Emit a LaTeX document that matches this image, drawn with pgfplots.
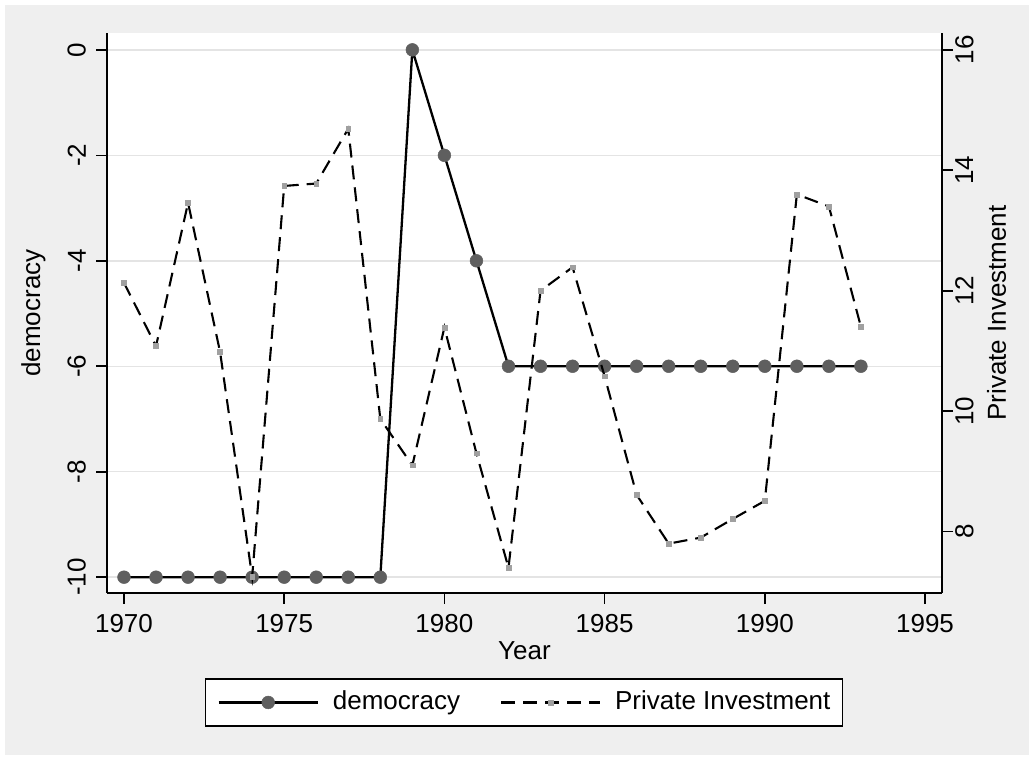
\documentclass[border=0pt]{standalone}
\usepackage{fontspec}
\setmainfont{Liberation Sans}
\usepackage{pgfplots}
\pgfplotsset{compat=1.18}
\definecolor{bggray}{RGB}{239,239,239}
\definecolor{gridgray}{RGB}{228,228,228}
\definecolor{dotgray}{RGB}{95,95,95}
\definecolor{sqgray}{RGB}{160,160,160}
\newcommand{\fs}{\fontsize{26}{31}\selectfont}
\begin{document}
\fs
\begin{tikzpicture}
\useasboundingbox (0pt,0pt) rectangle (1034pt,760pt);
\fill[white] (0pt,0pt) rectangle (1034pt,760pt);
\fill[bggray] (5pt,5pt) rectangle (1029pt,755pt);
\pgfplotsset{
  common/.style={
    at={(107pt,167pt)}, anchor=south west,
    scale only axis, width=835pt, height=560pt,
    xmin=1969.47, xmax=1995.53,
    tick align=outside, major tick length=11pt,
    every tick/.style={black, line width=1.6pt},
    axis line style={black, line width=1.6pt},
    /pgf/number format/assume math mode=true,
    /pgf/number format/1000 sep={},
    ticklabel style={font=\fs, inner sep=0pt},
    label style={font=\fs},
    clip=false,
  }
}
\begin{axis}[common,
  axis x line*=bottom, axis y line*=left,
  axis background/.style={fill=white},
  ymin=-10.30, ymax=0.32,
  xtick={1970,1975,...,1995}, ytick={-10,-8,...,0},
  ymajorgrids, major grid style={gridgray, line width=1.5pt},
  xticklabel style={anchor=north, yshift=-10pt},
  yticklabel style={xshift=-10pt, rotate=90, anchor=south},
  xlabel={Year}, ylabel={democracy},
  every axis x label/.style={at={(axis description cs:0.5,-0.1179)}, anchor=base},
  every axis y label/.style={at={(axis description cs:-0.0802,0.5)}, rotate=90, anchor=base},
  legend columns=2,
  legend style={at={(axis description cs:0.4994,-0.1955)}, anchor=center,
    draw=black, line width=1.5pt, fill=white, inner xsep=12pt, inner ysep=12pt,
    font=\fs, nodes={inner sep=0pt},
    /tikz/every odd column/.style={column sep=14pt},
    /tikz/every even column/.style={column sep=40pt}},
  legend image code/.code={\draw[mark repeat=2, mark phase=2, #1] plot coordinates {(0pt,0pt) (49.5pt,0pt) (99pt,0pt)};},
]
\addplot[black, line width=2.3pt, mark=*, mark size=6.4pt,
  mark options={solid, fill=dotgray, draw=dotgray, line width=0.5pt}]
  coordinates {
  (1970,-10) (1971,-10) (1972,-10) (1973,-10) (1974,-10) (1975,-10)
  (1976,-10) (1977,-10) (1978,-10) (1979,0) (1980,-2) (1981,-4)
  (1982,-6) (1983,-6) (1984,-6) (1985,-6) (1986,-6) (1987,-6)
  (1988,-6) (1989,-6) (1990,-6) (1991,-6) (1992,-6) (1993,-6)};
\addlegendentry{democracy}
\addlegendimage{black, line width=2.1pt, dash pattern=on 14pt off 8pt, mark=square*, mark size=2.4pt,
  mark options={solid, fill=sqgray, draw=sqgray, line width=0.5pt}}
\addlegendentry{Private Investment}
\end{axis}
\begin{axis}[common,
  axis x line=none, axis y line*=right,
  ymin=6.98, ymax=16.28,
  ytick={8,10,...,16},
  yticklabel style={xshift=2pt, rotate=90, anchor=north},
  ylabel={Private Investment},
  every axis y label/.style={at={(axis description cs:1.0766,0.5)}, rotate=90, anchor=base},
]
\addplot[black, line width=2.1pt, dash pattern=on 14pt off 8pt, mark=square*, mark size=2.4pt,
  mark options={solid, fill=sqgray, draw=sqgray, line width=0.5pt}]
  coordinates {
  (1970,12.13) (1971,11.08) (1972,13.46) (1973,10.98) (1974,7.25) (1975,13.74)
  (1976,13.78) (1977,14.69) (1978,9.87) (1979,9.10) (1980,11.39) (1981,9.30)
  (1982,7.40) (1983,12.00) (1984,12.39) (1985,10.58) (1986,8.61) (1987,7.80)
  (1988,7.90) (1989,8.21) (1990,8.51) (1991,13.60) (1992,13.40) (1993,11.40)};
\end{axis}
\end{tikzpicture}
\end{document}
